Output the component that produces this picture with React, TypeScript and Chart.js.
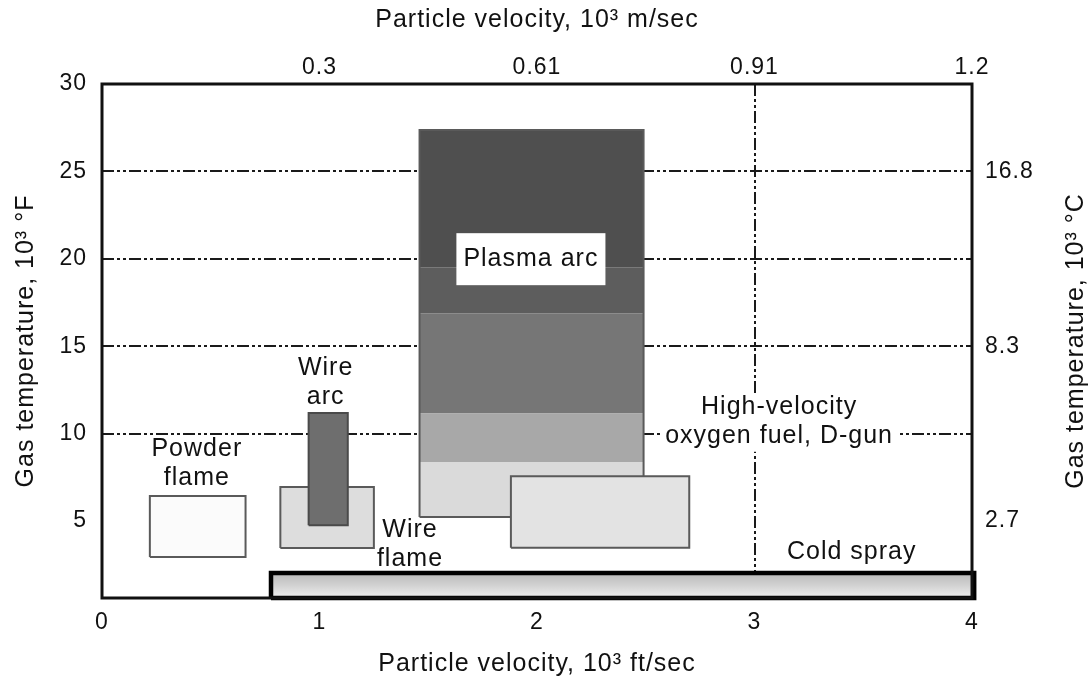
import React, { useEffect, useRef } from "react";
import { Chart, registerables } from "chart.js";

Chart.register(...registerables);

// ---- axes / ticks ----
const X_TICKS = [0, 1, 2, 3, 4];
const TOP_TICKS = [1, 2, 3, 4];
const TOP_TICK_LABELS = ["0.3", "0.61", "0.91", "1.2"];
const Y_TICKS = [5, 10, 15, 20, 25, 30];
const RIGHT_TICKS = [5, 15, 25];
const RIGHT_TICK_LABELS = ["2.7", "8.3", "16.8"];
const GRID_Y = [10, 15, 20, 25];
const GRID_X = [3];
const X_RANGE = [0, 4];
const Y_RANGE = [0.6, 30];

// ---- process regions (x: 10^3 ft/sec, y: 10^3 °F) ----
const POWDER_FLAME_X = [0.22, 0.66];
const POWDER_FLAME_Y = [2.94, 6.43];
const WIRE_FLAME_X = [0.82, 1.25];
const WIRE_FLAME_Y = [3.46, 6.95];
const WIRE_ARC_X = [0.95, 1.13];
const WIRE_ARC_Y = [4.76, 11.18];
const PLASMA_X = [1.46, 2.49];
const PLASMA_BAND_EDGES = [5.23, 8.38, 11.15, 16.89, 19.52, 27.37];
const HVOF_X = [1.88, 2.7];
const HVOF_Y = [3.48, 7.56];
const COLD_SPRAY_X = [0.777, 4.01];
const COLD_SPRAY_Y = [0.6, 2.03];

// ---- labels (anchored in data units) ----
const LABEL_TEXTS = [
  ["Powder", "flame"],
  ["Wire", "arc"],
  ["Wire", "flame"],
  ["Plasma arc"],
  ["High-velocity", "oxygen fuel, D-gun"],
  ["Cold spray"],
];
const LABEL_X = [0.436, 1.028, 1.416, 1.972, 3.113, 3.447];
const LABEL_Y = [8.31, 12.94, 3.67, 19.98, 10.68, 3.23];
const LABEL_BG = ["none", "none", "none", "box", "lines", "none"];

// ---- styles ----
const FONT = '"Liberation Sans", Arial, Helvetica, sans-serif';
const INK = "#111111";
const EDGE = "#5a5a5a";
const PLASMA_BAND_COLORS = ["#dadada", "#a8a8a8", "#767676", "#5d5d5d", "#4f4f4f"];
const GRID_DASH = [12, 3, 3, 3, 3, 3];

const rectPts = (xs: number[], ys: number[]) => [
  { x: xs[0], y: ys[0] },
  { x: xs[1], y: ys[0] },
  { x: xs[1], y: ys[1] },
  { x: xs[0], y: ys[1] },
  { x: xs[0], y: ys[0] },
];

const App = () => {
  const ref = useRef<HTMLCanvasElement>(null);

  useEffect(() => {
    const canvas = ref.current;
    if (!canvas) return;

    const base = {
      showLine: true,
      pointRadius: 0,
      pointHoverRadius: 0,
      tension: 0,
      borderJoinStyle: "miter" as const,
      clip: false as const,
      xAxisID: "x",
      yAxisID: "y",
    };

    const datasets: any[] = [];
    for (let i = 0; i < PLASMA_BAND_COLORS.length; i++) {
      datasets.push({
        ...base,
        label: "Plasma arc band " + (i + 1),
        data: rectPts(PLASMA_X, [PLASMA_BAND_EDGES[i], PLASMA_BAND_EDGES[i + 1]]),
        fill: "shape",
        backgroundColor: PLASMA_BAND_COLORS[i],
        borderColor: "rgba(0,0,0,0)",
        borderWidth: 0,
        order: 20,
      });
    }
    datasets.push({
      ...base,
      label: "Plasma arc",
      data: rectPts(PLASMA_X, [PLASMA_BAND_EDGES[0], PLASMA_BAND_EDGES[PLASMA_BAND_EDGES.length - 1]]),
      fill: false,
      borderColor: EDGE,
      borderWidth: 2,
      order: 19,
    });
    datasets.push({
      ...base,
      label: "HVOF, D-gun",
      data: rectPts(HVOF_X, HVOF_Y),
      fill: "shape",
      backgroundColor: "#e3e3e3",
      borderColor: EDGE,
      borderWidth: 2,
      order: 18,
    });
    datasets.push({
      ...base,
      label: "Powder flame",
      data: rectPts(POWDER_FLAME_X, POWDER_FLAME_Y),
      fill: "shape",
      backgroundColor: "#fbfbfb",
      borderColor: EDGE,
      borderWidth: 2,
      order: 17,
    });
    datasets.push({
      ...base,
      label: "Wire flame",
      data: rectPts(WIRE_FLAME_X, WIRE_FLAME_Y),
      fill: "shape",
      backgroundColor: "#dddddd",
      borderColor: EDGE,
      borderWidth: 2,
      order: 16,
    });
    datasets.push({
      ...base,
      label: "Wire arc",
      data: rectPts(WIRE_ARC_X, WIRE_ARC_Y),
      fill: "shape",
      backgroundColor: "#6e6e6e",
      borderColor: "#4a4a4a",
      borderWidth: 2,
      order: 15,
    });
    datasets.push({
      ...base,
      label: "Cold spray",
      data: rectPts(COLD_SPRAY_X, COLD_SPRAY_Y),
      fill: "shape",
      backgroundColor: (c: any) => {
        const ch = c.chart;
        if (!ch.chartArea || !ch.scales.y) return "#d0d0d0";
        const y0 = ch.scales.y.getPixelForValue(COLD_SPRAY_Y[1]);
        const y1 = ch.scales.y.getPixelForValue(COLD_SPRAY_Y[0]);
        const g = ch.ctx.createLinearGradient(0, y0, 0, y1);
        g.addColorStop(0, "#b9b9b9");
        g.addColorStop(0.5, "#d2d2d2");
        g.addColorStop(1, "#f0f0f0");
        return g;
      },
      borderColor: "#000000",
      borderWidth: 4.5,
      order: 14,
    });

    const decor = {
      id: "decor",
      beforeUpdate(chart: any) {
        (chart.ctx as any).letterSpacing = "1px";
      },
      beforeDatasetsDraw(chart: any) {
        const { ctx, chartArea: a, scales } = chart;
        ctx.save();
        ctx.strokeStyle = "#1a1a1a";
        ctx.lineWidth = 2;
        ctx.setLineDash(GRID_DASH);
        GRID_Y.forEach((v) => {
          const y = Math.round(scales.y.getPixelForValue(v));
          ctx.beginPath();
          ctx.moveTo(a.left, y);
          ctx.lineTo(a.right, y);
          ctx.stroke();
        });
        GRID_X.forEach((v) => {
          const x = Math.round(scales.x.getPixelForValue(v));
          ctx.beginPath();
          ctx.moveTo(x, a.top);
          ctx.lineTo(x, a.bottom);
          ctx.stroke();
        });
        ctx.restore();
      },
      afterDatasetsDraw(chart: any) {
        const { ctx, chartArea: a, scales } = chart;
        ctx.save();
        ctx.font = `25px ${FONT}`;
        ctx.textAlign = "center";
        ctx.textBaseline = "middle";
        const lh = 29;
        LABEL_TEXTS.forEach((lines, i) => {
          const cx = scales.x.getPixelForValue(LABEL_X[i]);
          const cy = scales.y.getPixelForValue(LABEL_Y[i]);
          const y0 = cy - ((lines.length - 1) * lh) / 2;
          if (LABEL_BG[i] === "box") {
            const w = Math.max(...lines.map((t) => ctx.measureText(t).width)) + 14;
            const h = 52;
            ctx.fillStyle = "#ffffff";
            ctx.fillRect(cx - w / 2, cy - h / 2, w, h);
          } else if (LABEL_BG[i] === "lines") {
            lines.forEach((t, j) => {
              const w = ctx.measureText(t).width + 8;
              ctx.fillStyle = "#ffffff";
              ctx.fillRect(cx - w / 2, y0 + j * lh - lh / 2 + 1, w, lh);
            });
          }
          ctx.fillStyle = INK;
          lines.forEach((t, j) => ctx.fillText(t, cx, y0 + j * lh));
        });
        // plot frame
        ctx.strokeStyle = INK;
        ctx.lineWidth = 3;
        ctx.setLineDash([]);
        ctx.strokeRect(a.left, a.top, a.right - a.left, a.bottom - a.top);
        ctx.restore();
      },
      afterDraw(chart: any) {
        const { ctx, chartArea: a } = chart;
        ctx.save();
        ctx.font = `25px ${FONT}`;
        ctx.fillStyle = INK;
        ctx.textAlign = "center";
        ctx.textBaseline = "middle";
        ctx.translate(1076, (a.top + a.bottom) / 2);
        ctx.rotate(-Math.PI / 2);
        ctx.fillText("Gas temperature, 10³ °C", 0, 0);
        ctx.restore();
      },
    };

    const tickFont = { family: FONT, size: 23 };
    const titleFont = { family: FONT, size: 25 };

    const chart = new Chart(canvas, {
      type: "scatter",
      data: { datasets },
      plugins: [decor],
      options: {
        responsive: false,
        animation: false,
        events: [],
        layout: { padding: 0 },
        plugins: { legend: { display: false }, tooltip: { enabled: false } },
        scales: {
          x: {
            type: "linear",
            position: "bottom",
            min: X_RANGE[0],
            max: X_RANGE[1],
            grid: { display: false, drawTicks: false },
            border: { display: false },
            afterBuildTicks: (ax: any) => {
              ax.ticks = X_TICKS.map((v) => ({ value: v }));
            },
            afterFit: (s: any) => {
              s.height = 83;
            },
            ticks: {
              autoSkip: false,
              maxRotation: 0,
              padding: 11,
              color: INK,
              font: tickFont,
              callback: (v: any) => String(v),
            },
            title: {
              display: true,
              text: "Particle velocity, 10³ ft/sec",
              color: INK,
              font: titleFont,
              padding: { top: 0, bottom: 2 },
            },
          },
          x2: {
            type: "linear",
            position: "top",
            min: X_RANGE[0],
            max: X_RANGE[1],
            grid: { display: false, drawTicks: false },
            border: { display: false },
            afterBuildTicks: (ax: any) => {
              ax.ticks = TOP_TICKS.map((v) => ({ value: v }));
            },
            afterFit: (s: any) => {
              s.height = 84;
            },
            ticks: {
              autoSkip: false,
              maxRotation: 0,
              padding: 3,
              color: INK,
              font: tickFont,
              callback: (_v: any, i: number) => TOP_TICK_LABELS[i],
            },
            title: {
              display: true,
              text: "Particle velocity, 10³ m/sec",
              color: INK,
              font: titleFont,
              padding: { top: 5, bottom: 0 },
            },
          },
          y: {
            type: "linear",
            position: "left",
            min: Y_RANGE[0],
            max: Y_RANGE[1],
            grid: { display: false, drawTicks: false },
            border: { display: false },
            afterBuildTicks: (ax: any) => {
              ax.ticks = Y_TICKS.map((v) => ({ value: v }));
            },
            afterFit: (s: any) => {
              s.width = 102;
            },
            ticks: {
              autoSkip: false,
              padding: 15,
              color: INK,
              font: tickFont,
              callback: (v: any) => String(v),
            },
            title: {
              display: true,
              text: "Gas temperature, 10³ °F",
              color: INK,
              font: titleFont,
              padding: { top: 11, bottom: 0 },
            },
          },
          y2: {
            type: "linear",
            position: "right",
            min: Y_RANGE[0],
            max: Y_RANGE[1],
            grid: { display: false, drawTicks: false },
            border: { display: false },
            afterBuildTicks: (ax: any) => {
              ax.ticks = RIGHT_TICKS.map((v) => ({ value: v }));
            },
            afterFit: (s: any) => {
              s.width = 119;
            },
            ticks: {
              autoSkip: false,
              padding: 13,
              color: INK,
              font: tickFont,
              callback: (_v: any, i: number) => RIGHT_TICK_LABELS[i],
            },
          },
        },
      } as any,
    });

    return () => chart.destroy();
  }, []);

  return (
    <div style={{ position: "absolute", left: 0, top: 0, width: 1091, height: 681, background: "#ffffff" }}>
      <canvas ref={ref} width={1091} height={681} style={{ display: "block", width: 1091, height: 681 }} />
    </div>
  );
};

export default App;
